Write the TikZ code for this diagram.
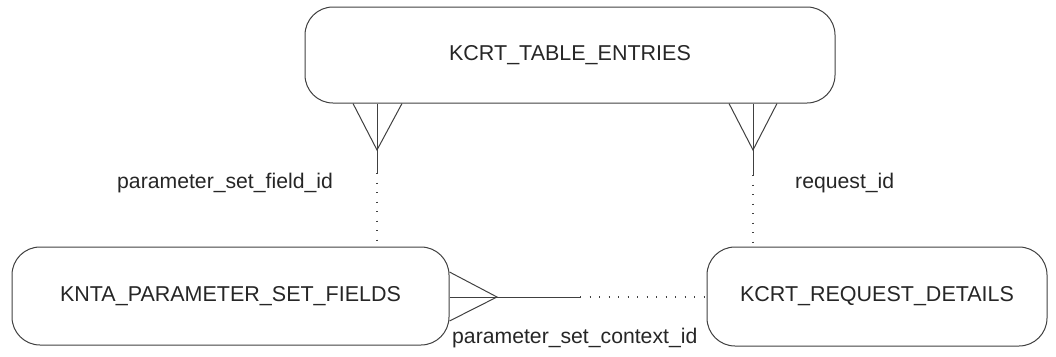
\documentclass[tikz,border=0pt]{standalone}
\usepackage{fontspec}
\setmainfont{Liberation Sans}
\usetikzlibrary{calc}
\begin{document}
\begin{tikzpicture}[x=1pt,y=-1pt,
  entity/.style={draw=black!75,line width=1pt,rounded corners=28pt,inner sep=0pt,
    font=\fontsize{21.5}{24}\selectfont,text=black!85},
  lbl/.style={font=\fontsize{21.2}{24}\selectfont,text=black!85,inner sep=0pt,anchor=base west},
  rel/.style={draw=black!75,line width=1pt},
  opt/.style={draw=black!75,line width=1.3pt,dash pattern=on 1.3pt off 8.2pt}]
\useasboundingbox (0,0) rectangle (1056,356);
\node[entity,minimum width=530pt,minimum height=96pt] (T) at (570,55) {KCRT\_TABLE\_ENTRIES};
\node[entity,minimum width=437pt,minimum height=98pt] (P) at (230.5,296) {KNTA\_PARAMETER\_SET\_FIELDS};
\node[entity,minimum width=340pt,minimum height=99pt] (R) at (877,296.5) {KCRT\_REQUEST\_DETAILS};
% relationship 1: T -- P
\coordinate (a1) at (377,150);
\coordinate (e1) at (377,173);
\draw[rel] ($(T.south -| a1)+(-24,0)$) -- (a1) -- ($(T.south -| a1)+(25,0)$);
\draw[rel] (T.south -| a1) -- (e1);
\draw[opt] (e1) -- (e1 |- P.north);
% relationship 2: T -- R
\coordinate (a2) at (753,150);
\coordinate (e2) at (753,175);
\draw[rel] ($(T.south -| a2)+(-24,0)$) -- (a2) -- ($(T.south -| a2)+(24,0)$);
\draw[rel] (T.south -| a2) -- (e2);
\draw[opt] (e2) -- (e2 |- R.north);
% relationship 3: P -- R
\coordinate (a3) at (497,297);
\coordinate (e3) at (580,297);
\draw[rel] ($(P.east |- a3)+(0,-25)$) -- (a3) -- ($(P.east |- a3)+(0,24)$);
\draw[rel] (P.east |- a3) -- (e3);
\draw[opt] (e3) -- (e3 -| R.west);
% labels
\node[lbl] (l1) at (117,188) {parameter\_set\_field\_id};
\node[lbl] (l2) at (795,188) {request\_id};
\node[lbl] (l3) at (452,343) {parameter\_set\_context\_id};
\end{tikzpicture}
\end{document}
